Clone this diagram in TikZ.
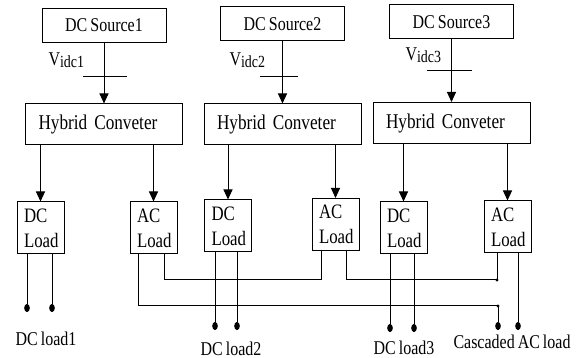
\documentclass[tikz,border=0pt]{standalone}
\usepackage{fontspec}
\setmainfont{Liberation Serif}[FakeStretch=0.82, WordSpace=0.75]
\usetikzlibrary{shapes.geometric, arrows.meta}

\begin{document}
\begin{tikzpicture}[x=1pt, y=-1pt, line width=1pt,
  src/.style={draw, rectangle, minimum width=124pt, minimum height=34pt, font=\fontsize{19.5}{21}\selectfont},
  conv/.style={draw, rectangle, minimum width=157pt, minimum height=41pt, text width=131pt, align=left, font=\fontsize{21}{22}\selectfont},
  load/.style={draw, rectangle, minimum width=47pt, minimum height=52pt, text width=33pt, align=left, inner sep=1pt, font=\fontsize{20.5}{25}\selectfont},
  dot/.style={draw, fill, ellipse, inner sep=0pt, minimum width=4.5pt, minimum height=7pt},
  lbl/.style={font=\fontsize{19.5}{21}\selectfont, inner sep=0pt},
  arr/.style={-{Triangle[length=10pt, width=9pt]}}]
\useasboundingbox (0,0) rectangle (584,358);

% sources and converters
\node (src1)[src] at (104,25.5) {DC Source1};
\node (src2)[src] at (282.5,24) {DC Source2};
\node (src3)[src] at (451.5,22) {DC Source3};
\node (conv1)[conv] at (104,124.5) {Hybrid Conveter};
\node (conv2)[conv] at (282.5,124.5) {Hybrid Conveter};
\node (conv3)[conv] at (451.5,123) {Hybrid Conveter};

% input voltages
\node (v1)[lbl, anchor=base west] at (48,66) {V\raisebox{-2pt}{\fontsize{17}{17}\selectfont idc1}};
\node (v2)[lbl, anchor=base west] at (229,66) {V\raisebox{-2pt}{\fontsize{17}{17}\selectfont idc2}};
\node (v3)[lbl, anchor=base west] at (405,61) {V\raisebox{-2pt}{\fontsize{17}{17}\selectfont idc3}};
\coordinate (t1) at (104,77);
\coordinate (t2) at (282.5,77);
\coordinate (t3) at (451.5,71);
\draw[arr] (src1) -- (conv1);
\draw[arr] (src2) -- (conv2);
\draw[arr] (src3) -- (conv3);
\draw ([xshift=-21pt]t1) -- ([xshift=23pt]t1);
\draw ([xshift=-23pt]t2) -- ([xshift=15pt]t2);
\draw ([xshift=-25pt]t3) -- ([xshift=20pt]t3);

% loads
\node (dc1)[load] at (40.5,228) {DC\\Load};
\node (ac1)[load] at (153.5,228) {AC\\Load};
\node (dc2)[load] at (228,226) {DC\\Load};
\node (ac2)[load] at (335.5,224.5) {AC\\Load};
\node (dc3)[load] at (403.5,228) {DC\\Load};
\node (ac3)[load] at (507.5,227) {AC\\Load};
\draw[arr] (dc1.north |- conv1.south) -- (dc1.north);
\draw[arr] (ac1.north |- conv1.south) -- (ac1.north);
\draw[arr] (dc2.north |- conv2.south) -- (dc2.north);
\draw[arr] (ac2.north |- conv2.south) -- (ac2.north);
\draw[arr] (dc3.north |- conv3.south) -- (dc3.north);
\draw[arr] (ac3.north |- conv3.south) -- (ac3.north);

% output terminals
\node (o1a)[dot] at (27,308) {};
\node (o1b)[dot] at (52,308) {};
\node (o2a)[dot] at (215,326) {};
\node (o2b)[dot] at (237,326) {};
\node (o3a)[dot] at (390,328) {};
\node (o3b)[dot] at (414,328) {};
\node (o4a)[dot] at (498,326) {};
\node (o4b)[dot] at (518,326) {};
\draw (dc1.south -| o1a) -- (o1a);
\draw (dc1.south -| o1b) -- (o1b);
\draw (dc2.south -| o2a) -- (o2a);
\draw (dc2.south -| o2b) -- (o2b);
\draw (dc3.south -| o3a) -- (o3a);
\draw (dc3.south -| o3b) -- (o3b);

% cascaded ac wiring
\coordinate (j1) at (164,280);
\coordinate (j2) at (321,280);
\coordinate (j3) at (346,280);
\coordinate (j4) at (497,280);
\coordinate (b1) at (138,306);
\coordinate (b2) at (498,306);
\draw (ac1.south -| j1) -- (j1) -- (j2) -- (ac2.south -| j2);
\draw (ac2.south -| j3) -- (j3) -- (j4) -- (ac3.south -| j4);
\draw (ac1.south -| b1) -- (b1) -- (b2) -- (o4a);
\draw (ac3.south -| o4b) -- (o4b);
\fill (j4) circle (1.6pt);
\fill (b2) circle (1.6pt);

% labels
\node (l1)[lbl, anchor=base] at (46,345) {DC load1};
\node (l2)[lbl, anchor=base] at (231,355) {DC load2};
\node (l3)[lbl, anchor=base] at (404,354) {DC load3};
\node (l4)[lbl, anchor=base] at (512,348) {Cascaded AC load};
\end{tikzpicture}
\end{document}
